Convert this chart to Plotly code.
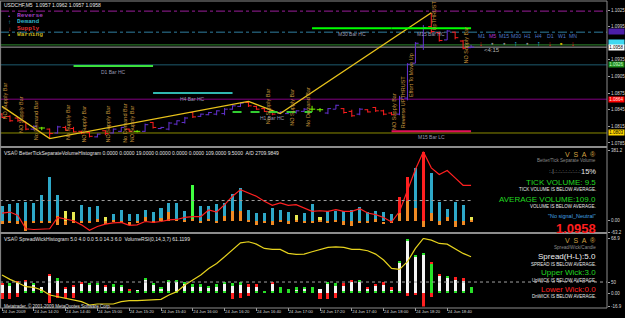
import plotly.graph_objects as go

# ---------------- data ----------------
bar_idx = list(range(60))
tick_idx = [0, 4, 8, 12, 16, 20, 24, 28, 32, 36, 40, 44, 48, 52, 56]
tick_text = ["24 Jun 2009", "24 Jun 14:20", "24 Jun 14:40", "24 Jun 15:00", "24 Jun 15:20",
             "24 Jun 15:40", "24 Jun 16:00", "24 Jun 16:20", "24 Jun 16:40", "24 Jun 17:00",
             "24 Jun 17:20", "24 Jun 17:40", "24 Jun 18:00", "24 Jun 18:20", "24 Jun 18:40"]

bar_type = list("RRRRPGRPRR" "RRPRPPRGPR" "PPPPRPPPPP" "PRRRRPPPPG" "GPPRRPRRRR" "PPPPRRPRRP")
opens = [1.0837, 1.0833, 1.0830, 1.0823, 1.0810, 1.0812, 1.0810, 1.0803, 1.0813, 1.0811,
         1.0806, 1.0804, 1.0796, 1.0807, 1.0803, 1.0806, 1.0810, 1.0806, 1.0806, 1.0822,
         1.0811, 1.0810, 1.0819, 1.0822, 1.0840, 1.0833, 1.0836, 1.0837, 1.0838, 1.0846,
         1.0851, 1.0858, 1.0851, 1.0847, 1.0843, 1.0839, 1.0838, 1.0840, 1.0842, 1.0846,
         1.0845, 1.0839, 1.0846, 1.0847, 1.0842, 1.0837, 1.0845, 1.0849, 1.0843, 1.0839,
         1.0837, 1.0866, 1.0929, 1.0960, 1.0995, 1.0984, 1.0971, 1.0985, 1.0969, 1.0957]
highs = [1.0839, 1.0835, 1.0832, 1.0823, 1.0817, 1.0814, 1.0811, 1.0816, 1.0816, 1.0814,
         1.0807, 1.0805, 1.0802, 1.0808, 1.0811, 1.0814, 1.0811, 1.0808, 1.0820, 1.0823,
         1.0814, 1.0823, 1.0826, 1.0832, 1.0841, 1.0838, 1.0841, 1.0844, 1.0848, 1.0853,
         1.0858, 1.0860, 1.0852, 1.0848, 1.0845, 1.0842, 1.0841, 1.0844, 1.0848, 1.0852,
         1.0848, 1.0848, 1.0854, 1.0848, 1.0845, 1.0848, 1.0846, 1.0850, 1.0845, 1.0841,
         1.0870, 1.0929, 1.0967, 1.0998, 1.1020, 1.0986, 1.0989, 1.0986, 1.0971, 1.0962]
lows = [1.0830, 1.0823, 1.0823, 1.0808, 1.0808, 1.0808, 1.0793, 1.0802, 1.0807, 1.0804,
        1.0801, 1.0795, 1.0795, 1.0799, 1.0802, 1.0805, 1.0805, 1.0804, 1.0805, 1.0811,
        1.0810, 1.0808, 1.0817, 1.0820, 1.0830, 1.0832, 1.0835, 1.0835, 1.0835, 1.0845,
        1.0850, 1.0850, 1.0845, 1.0841, 1.0835, 1.0838, 1.0837, 1.0838, 1.0841, 1.0841,
        1.0841, 1.0837, 1.0846, 1.0838, 1.0832, 1.0835, 1.0840, 1.0841, 1.0835, 1.0835,
        1.0835, 1.0862, 1.0929, 1.0953, 1.0983, 1.0968, 1.0971, 1.0972, 1.0954, 1.0957]
closes = [1.0831, 1.0825, 1.0826, 1.0810, 1.0815, 1.0812, 1.0802, 1.0814, 1.0808, 1.0805,
          1.0803, 1.0797, 1.0801, 1.0802, 1.0810, 1.0813, 1.0806, 1.0806, 1.0818, 1.0813,
          1.0813, 1.0821, 1.0825, 1.0830, 1.0832, 1.0837, 1.0840, 1.0843, 1.0846, 1.0852,
          1.0857, 1.0852, 1.0846, 1.0842, 1.0837, 1.0841, 1.0840, 1.0843, 1.0846, 1.0846,
          1.0845, 1.0847, 1.0853, 1.0840, 1.0834, 1.0846, 1.0841, 1.0843, 1.0837, 1.0836,
          1.0866, 1.0927, 1.0965, 1.0993, 1.0986, 1.0970, 1.0987, 1.0975, 1.0956, 1.0958]

zz_idx = [0, 6, 31, 35, 54]
zz_price = [1.0851, 1.0793, 1.0860, 1.0838, 1.1020]

lvl_price = [1.1023, 1.0985, 1.0962, 1.0958, 1.0926, 1.0864, 1.0803]
lvl_color = ["#9A1E9A", "#2F7FA0", "#2E8B2E", "#A8A8A8", "#1E5A6E", "#800080", "#8B8B00"]
lvl_dash = ["dashdot", "dashdot", "solid", "solid", "solid", "solid", "solid"]

box_price = [1.0987, 1.0966, 1.0958, 1.0926, 1.0864, 1.0803]
box_text = ["1.0987", "1.0966", "1.0958", "1.0926", "1.0864", "1.0803"]
box_bg = ["#4B1FA8", "#40D8F0", "#FFFFFF", "#1E8C1E", "#FF0000", "#FFD700"]
box_fg = ["#4B1FA8", "#40D8F0", "#000000", "#D0FFD0", "#FFE0E0", "#000000"]

seg_start = [9, 19, 29, 39, 49, 49]
seg_end = [19, 29, 39, 49, 59, 59]
seg_price = [1.0924, 1.0875, 1.0841, 1.0992, 1.0992, 1.0806]
seg_label = ["D1 Bar HC", "H4 Bar HC", "H1 Bar HC", "M30 Bar HC", "M15 Bar HC", "M15 Bar LC"]
seg_color = ["#3CE03C", "#30B8B0", "#32CD32", "#00FF00", "#00FF00", "#E0105A"]
seg_dash = ["solid", "solid", "dash", "solid", "solid", "solid"]

sig_idx = [0, 2, 4, 8, 10, 13, 15, 16, 33, 36, 38, 49, 50, 51, 54, 58]
sig_price = [1.0823, 1.0800, 1.0786, 1.0786, 1.0782, 1.0782, 1.0782, 1.0782,
             1.0816, 1.0812, 1.0811, 1.0805, 1.0808, 1.0865, 1.0985, 1.0924]
sig_text = ["NO Supply Bar", "NO Supply Bar", "No Demand Bar", "No Supply Bar", "NO Supply Bar",
            "NO Supply Bar", "No Demand Bar", "NO Supply Bar", "No Supply Bar", "NO Supply Bar",
            "No Demand Bar", "NO Supply Bar", "Reverse UPTHRUST", "Effort To Move Up", "UpTHRUST",
            "NO Supply Bar"]

tf_labels = ["M1", "M5", "M15", "M30", "H1", "H4", "D1", "W1", "MN"]
tf_signal = ["down", "flat", "flat", "up", "flat", "up", "down", "warn", "down"]

# middle panel: tick volume histogram
vol_val = [77.7, 90, 96, 101, 96, 137, 235, 141, 54, 47,
           87, 74, 78, 23, 36, 56, 38, 36, 56, 47,
           69, 94, 96, 51, 192, 78, 81, 92, 96, 146,
           177, 60, 42, 42, 69, 56, 45, 29, 42, 92,
           23, 51, 54, 51, 60, 72, 47, 51, 45, 36,
           126, 237, 285, 372, 258, 101, 65, 101, 83, 18]
vol_base = [0] * 50 + [41, 105, 0, 0, 0, 0, 0, 0, 0, 0]
vol_kind = list("ccccccccyy" "cccycccccc" "ccccgccccc" "cccccccycc" "yccccccccc" "rrcrcccccy")
ora_hi = [-3.6, 0, -3.6, -3.6, 0, 0, 0, 23.5, 0, 5.4,
          0, 0, 10.8, 0, 5.4, 0, -9, 0, 21.7, 0,
          14.5, 45, 10.8, 5.4, 10.8, 0, 10.8, 0, 23.5, 50.6,
          50.6, 5.4, -3.6, 0, -3.6, 5.4, -3.6, 5.4, 0, 0,
          5.4, 0, 5.4, -3.6, -3.6, 0, 0, 10.8, -7, 0,
          41, 105, 69, 0, 41, 0, 23, 0, 0, 0]
ora_lo = [-12.6, -9, -12.6, -54, -9, -9, -9, -21.7, -21.7, -12.6,
          -9, -9, -9, -16, -9, -9, -21.7, -9, -3.6, -9,
          -3.6, -3.6, -3.6, -3.6, -3.6, -9, -3.6, -9, -3.6, -3.6,
          -3.6, -9, -25, -9, -21.7, -9, -18, -3.6, -9, -9,
          -3.6, -9, -7, -25, -30.7, -9, -9, -7, -18, -9,
          0, 0, 0, -31, 0, -25, 0, -31, -22, -3]
vol_avg = [41.6, 47, 29, -43, -47, -45, -43, 18, 11, 0,
           -22, -51, -31, -18, -11, -9, -25, -22, -4, -9,
           -4, 5, 7, 18, 22, 22, 58, 47, 87, 132,
           168, 150, 132, 105, 83, 96, 83, 87, 69, 51,
           54, 51, 60, 51, 51, 65, 42, 33, 18, -7,
           50, 159, 276, 372, 285, 249, 271, 231, 191, 191]
vol_level = 109.0

# bottom panel: spread / wick histogram
spr_top = [12.9, 12, 15.4, 16.3, 12.9, 7.9, 23.8, 18.3, 7.9, 10,
           14.2, 12.9, 12.9, 10, 10.8, 10, 5, 3.75, 19.2, 12.9,
           7.9, 16.3, 16.3, 14.2, 10.8, 10.8, 8.75, 10.8, 14.2, 12,
           13.3, 10.8, 10.8, 2.5, 14.2, 7.9, 4.6, 7.1, 7.9, 7.1,
           5.4, 14.2, 12, 12, 16.3, 16.3, 7.9, 11.25, 13.3, 7.1,
           40.4, 68, 47.5, 50.4, 39.2, 23.8, 21.25, 19.6, 18.3, 7.1]
cap_col = list("rgrrgnrgrr" "rggrggrngg" "gggggggggg" "grrgrggggg" "nggrrgrrrr" "ggggrrgrrg")
body_col = list("wwwwwwwwww" "wwwwwwwwww" "wwwwwwwwww" "wwwgwggwwg" "wwwwwwwwww" "wwwwgwwwwg")
spr_neg = [-8, -8, -4.6, 0, 0, 0, -12, -6.7, -6.7, -6,
           0, 0, 0, 0, 0, 0, 0, 0, 0, 0,
           0, 0, 0, 0, 0, 0, 0, 0, 0, -8,
           -6, -4, 0, 0, 0, 0, 0, 0, 0, 0,
           -7.5, -8, -6, 0, 0, 0, 0, 0, 0, 0,
           0, -3.5, -3, -17, -5, 0, 0, 0, 0, 0]
rsi_line = [22.5, 17.1, 12.9, 7.9, 7.1, 3.75, -2.5, -4.6, -6.7, -8.75,
            -10.8, -15, -13.75, -13.75, -13.75, -10.8, -9.6, -9.6, -8.75, -8.75,
            -7.9, -2.5, 1.7, 10, 16.3, 22.5, 30.8, 37.1, 45.4, 53.75,
            62.9, 64.2, 61.25, 55.8, 54.6, 54.6, 49.6, 48.3, 48.75, 51.7,
            54.6, 57.1, 57.9, 57.1, 54.6, 54.6, 52.9, 48.75, 41.25, 30.8,
            29.6, 39.2, 55.8, 68.3, 66.25, 62.1, 61.25, 55.8, 49.6, 45.4]
spr_level = 13.75

# ---------------- helpers ----------------
PW = 607.0


def px(x):
    return x / PW


def py(y):
    return (308.0 - y) / 307.0


def yprice(y):
    return 1.1025 - (y - 10.0) / 5540.0


SANS = "Liberation Sans"
MONO = "Liberation Mono"
ann = []


def txt(x, y, s, color, size, anchor="left", family=SANS, **kw):
    d = dict(x=px(x), y=py(y), xref="paper", yref="paper", text=s, showarrow=False,
             xanchor=anchor, yanchor="middle", font=dict(color=color, size=size, family=family))
    d.update(kw)
    ann.append(d)


fig = go.Figure()

# ---------------- main price panel ----------------
main_col = {"P": "#6432D2", "R": "#FF1E1E", "G": "#7CFC00"}
for t in ["P", "R", "G"]:
    sel = [i for i in bar_idx if bar_type[i] == t]
    fig.add_trace(go.Ohlc(
        x=sel, open=[opens[i] for i in sel], high=[highs[i] for i in sel],
        low=[lows[i] for i in sel], close=[closes[i] for i in sel],
        increasing=dict(line=dict(color=main_col[t], width=1)),
        decreasing=dict(line=dict(color=main_col[t], width=1)),
        tickwidth=0.4, xaxis="x", yaxis="y", hoverinfo="skip", showlegend=False))

fig.add_trace(go.Scatter(x=zz_idx, y=zz_price, mode="lines", line=dict(color="#E8C21A", width=1.3),
                         xaxis="x", yaxis="y", hoverinfo="skip", showlegend=False))

for s, e, p, c, d in zip(seg_start, seg_end, seg_price, seg_color, seg_dash):
    fig.add_trace(go.Scatter(x=[s, e], y=[p, p], mode="lines", line=dict(color=c, width=2, dash=d),
                             xaxis="x", yaxis="y", hoverinfo="skip", showlegend=False))

shapes = []
for p, c, d in zip(lvl_price, lvl_color, lvl_dash):
    shapes.append(dict(type="line", xref="x domain", x0=0, x1=1, yref="y", y0=p, y1=p,
                       line=dict(color=c, width=1, dash=d), layer="below"))

for s, e, p, lab in zip(seg_start, seg_end, seg_price, seg_label):
    ann.append(dict(x=(s + e) / 2, y=p, xref="x", yref="y", text=lab, showarrow=False,
                    yanchor="top", yshift=-1, font=dict(color="#9A9AB4", size=5, family=SANS)))

for i, p, s in zip(sig_idx, sig_price, sig_text):
    ann.append(dict(x=i, y=p, xref="x", yref="y", text=s, showarrow=False, textangle=-90,
                    xanchor="center", yanchor="bottom", xshift=3,
                    font=dict(color="#C8963C", size=5.5, family=SANS)))

for p, t, bg, fg in zip(box_price, box_text, box_bg, box_fg):
    ann.append(dict(x=1, y=p, xref="paper", yref="y", text=t, showarrow=False, xanchor="left",
                    xshift=1, yanchor="middle", bgcolor=bg, width=15, height=5, borderpad=0,
                    font=dict(color=fg, size=4.5, family=SANS)))

# header / legend
txt(2, 4.5, "USDCHF,M5  1.0957 1.0962 1.0957 1.0958", "#E8E8E8", 5)
legend_items = [("Reverse", "#A040C0", "•"), ("Demand", "#30B0C8", "↑"),
                ("Supply", "#E03030", "↓"), ("Warning", "#C0B020", "▪")]
for k, (name, col, g) in enumerate(legend_items):
    yy = 15.5 + k * 6.4
    txt(16, yy, "<b>%s</b>" % name, col, 6.2, family=MONO, height=5.4, borderpad=0)
    txt(9, yy, "<b>%s</b>" % g, col, 6.2, anchor="center", height=5.4, borderpad=0)

# timeframe strip
glyph = {"down": ("<b>↓</b>", "#FF2020", 7), "up": ("<b>↑</b>", "#30D8F0", 7),
         "flat": ("●", "#8C8C8C", 4.5), "warn": ("■", "#C8B400", 4)}
for k, (lab, sig) in enumerate(zip(tf_labels, tf_signal)):
    xx = 481 + k * 11.5
    txt(xx, 36, lab, "#B030D0" if lab == "M5" else "#4E78C8", 5.2, anchor="center")
    g, c, sz = glyph[sig]
    txt(xx, 43.5, g, c, sz, anchor="center")
txt(482, 50.5, "<4:15", "#B0B0B0", 6)

# ---------------- middle panel ----------------
kind_col = {"c": "#2EA8C8", "y": "#E8E850", "g": "#40FF40", "r": "#FF2020"}
fig.add_trace(go.Bar(x=bar_idx, y=[v - b for v, b in zip(vol_val, vol_base)], base=vol_base,
                     marker=dict(color=[kind_col[k] for k in vol_kind], line=dict(width=0)),
                     width=0.38, xaxis="x", yaxis="y2", hoverinfo="skip", showlegend=False))
fig.add_trace(go.Bar(x=bar_idx, y=[h - l for h, l in zip(ora_hi, ora_lo)], base=ora_lo,
                     marker=dict(color="#F08A24", line=dict(width=0)),
                     width=0.38, xaxis="x", yaxis="y2", hoverinfo="skip", showlegend=False))
red_sel = [i for i in bar_idx if vol_kind[i] == "r"]
fig.add_trace(go.Bar(x=red_sel, y=[vol_val[i] - vol_base[i] for i in red_sel],
                     base=[vol_base[i] for i in red_sel],
                     marker=dict(color="#FF2020", line=dict(width=0)),
                     width=0.38, xaxis="x", yaxis="y2", hoverinfo="skip", showlegend=False))
fig.add_trace(go.Scatter(x=bar_idx, y=vol_avg, mode="lines", line=dict(color="#FF2020", width=1.2),
                         xaxis="x", yaxis="y2", hoverinfo="skip", showlegend=False))
shapes.append(dict(type="line", xref="x", x0=-0.3, x1=59.3, yref="y2", y0=vol_level, y1=vol_level,
                   line=dict(color="#A0A0A0", width=1, dash="dot")))

txt(2, 153, "VSA© BetterTickSeparateVolumeHistogram 0.0000 0.0000 19.0000 0.0000 0.0000 0.0000 "
    "109.0000 9.5000  A/D 2709.9849", "#E0E0E0", 5)
R = 598
txt(R, 154, "V  S  A  ®", "#D2A040", 7, anchor="right")
txt(R, 160.5, "Better/Tick Separate Volume", "#8A8A8A", 4.6, anchor="right")
txt(R - 15, 171, ":.|.:.:.:.:.:.:.:.:", "#A0A0A0", 6, anchor="right")
txt(R, 171, "15%", "#E8E8E8", 7.5, anchor="right")
txt(R, 182, "TICK VOLUME: 9.5", "#20D820", 8, anchor="right")
txt(R, 189, "TICK VOLUME IS BELOW AVERAGE.", "#E8E8E8", 4.5, anchor="right")
txt(R, 199, "AVERAGE VOLUME:109.0", "#20D820", 8, anchor="right")
txt(R, 206, "VOLUME IS BELOW AVERAGE.", "#E8E8E8", 4.5, anchor="right")
txt(R, 216, "\"No signal_Neutral\"", "#40A0E0", 5.5, anchor="right")
txt(R, 228, "<b>1.0958</b>", "#FF1E1E", 13, anchor="right")

# ---------------- bottom panel ----------------
fig.add_trace(go.Bar(x=bar_idx, y=spr_top, base=[0] * 60,
                     marker=dict(color=["#F4F4F4" if b == "w" else "#28E028" for b in body_col],
                                 line=dict(width=0)),
                     width=0.38, xaxis="x", yaxis="y3", hoverinfo="skip", showlegend=False))
base_sel = [i for i in bar_idx if spr_neg[i] == 0 and body_col[i] == "w"]
fig.add_trace(go.Bar(x=base_sel, y=[3] * len(base_sel), base=[-0.6] * len(base_sel),
                     marker=dict(color="#28E028", line=dict(width=0)),
                     width=0.38, xaxis="x", yaxis="y3", hoverinfo="skip", showlegend=False))
neg_sel = [i for i in bar_idx if spr_neg[i] < 0]
fig.add_trace(go.Bar(x=neg_sel, y=[spr_neg[i] for i in neg_sel], base=[0] * len(neg_sel),
                     marker=dict(color="#FF2020", line=dict(width=0)),
                     width=0.38, xaxis="x", yaxis="y3", hoverinfo="skip", showlegend=False))
cap_sel = [i for i in bar_idx if cap_col[i] in "rg"]
fig.add_trace(go.Bar(x=cap_sel, y=[3] * len(cap_sel), base=[spr_top[i] - 3 for i in cap_sel],
                     marker=dict(color=["#FF2020" if cap_col[i] == "r" else "#28E028" for i in cap_sel],
                                 line=dict(width=0)),
                     width=0.38, xaxis="x", yaxis="y3", hoverinfo="skip", showlegend=False))
fig.add_trace(go.Scatter(x=bar_idx, y=rsi_line, mode="lines", line=dict(color="#E6D21E", width=1.2),
                         xaxis="x", yaxis="y3", hoverinfo="skip", showlegend=False))
shapes.append(dict(type="line", xref="x domain", x0=0, x1=1, yref="y3", y0=spr_level, y1=spr_level,
                   line=dict(color="#A0A0A0", width=1, dash="dot")))

txt(2, 239, "VSA© SpreadWickHistogram 5.0 4.0 0.0 5.0 14.3 6.0  VolumeRSI(0,14,3,7) 61.1199",
    "#E0E0E0", 5)
txt(R, 240, "V  S  A  ®", "#D2A040", 7, anchor="right")
txt(R, 247, "Spread/Wick/Candle", "#8A8A8A", 4.6, anchor="right")
txt(R, 256, "Spread(H-L):5.0", "#F0F0F0", 8, anchor="right")
txt(R, 264, "SPREAD IS BELOW AVERAGE.", "#E8E8E8", 4.5, anchor="right")
txt(R, 272.5, "Upper Wick:3.0", "#20D820", 8, anchor="right")
txt(R, 280.5, "UpWICK IS BELOW AVERAGE.", "#E8E8E8", 4.5, anchor="right")
txt(R, 289, "Lower Wick:0.0", "#FF2020", 8, anchor="right")
txt(R, 296.5, "DnWICK IS BELOW AVERAGE.", "#E8E8E8", 4.5, anchor="right")
txt(2, 305.5, "Metatrader, © 2001-2009 MetaQuotes Software Corp.", "#E0E0E0", 4.5)

# ---------------- frames ----------------
GREY = "#8C8C8C"
for y0 in [1, 147, 233, 308]:
    shapes.append(dict(type="line", xref="paper", yref="paper", x0=0, x1=1, y0=py(y0), y1=py(y0),
                       line=dict(color=GREY, width=2 if y0 in (147, 233) else 1)))
shapes.append(dict(type="line", xref="paper", yref="paper", x0=0.001, x1=0.001, y0=0, y1=1,
                   line=dict(color=GREY, width=1)))
shapes.append(dict(type="line", xref="paper", yref="paper", x0=1, x1=1, y0=0, y1=1,
                   line=dict(color=GREY, width=1)))

AX_FONT = dict(color="#D8D8D8", size=4.5, family=SANS)
main_ticks = [1.1025, 1.0995, 1.0935, 1.0905, 1.0875, 1.0845, 1.0815, 1.0785]

fig.update_layout(
    width=625, height=318,
    margin=dict(l=0, r=18, t=1, b=10),
    paper_bgcolor="#000000", plot_bgcolor="#000000",
    barmode="overlay", bargap=0, showlegend=False,
    xaxis=dict(domain=[0, 1], range=[-0.2516, 76.1], anchor="y3", showgrid=False, zeroline=False,
               tickmode="array", tickvals=tick_idx, ticktext=tick_text, ticks="outside", ticklen=3,
               tickangle=0, tickcolor="#A0A0A0", tickfont=dict(color="#D8D8D8", size=4.2, family=SANS),
               ticklabelposition="outside right", rangeslider=dict(visible=False), showline=False),
    yaxis=dict(domain=[py(146), py(1)], range=[yprice(146), yprice(1)], side="right", anchor="x",
               showgrid=False, zeroline=False, tickmode="array", tickvals=main_ticks,
               ticktext=["%.4f" % v for v in main_ticks], ticks="outside", ticklen=2,
               tickcolor="#A0A0A0", tickfont=AX_FONT),
    yaxis2=dict(domain=[py(232.5), py(150)], range=[-63.2, 381.2], side="right", anchor="x",
                showgrid=False, zeroline=False, tickmode="array", tickvals=[381.2, 0, -63.2],
                ticktext=["381.2", "0.00", "-63.2"], ticks="outside", ticklen=2,
                tickcolor="#A0A0A0", tickfont=AX_FONT),
    yaxis3=dict(domain=[py(306.5), py(238)], range=[-16.9, 68.9], side="right", anchor="x",
                showgrid=False, zeroline=False, tickmode="array", tickvals=[68.9, 13.75, 0, -16.9],
                ticktext=["68.9", "50", "0.00", "-16.9"], ticks="outside", ticklen=2,
                tickcolor="#A0A0A0", tickfont=AX_FONT),
    shapes=shapes, annotations=ann,
)

fig.write_html("out.html")
